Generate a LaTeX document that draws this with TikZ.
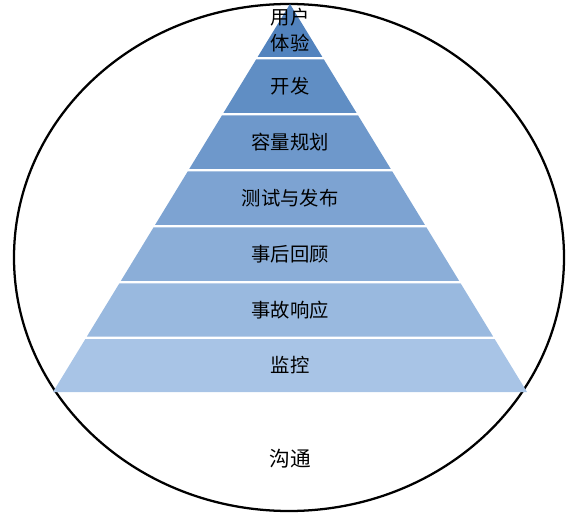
\documentclass[tikz,border=0pt]{standalone}
\usepackage{fontspec}
\newfontfamily\cjk{Noto Sans CJK SC}
\usetikzlibrary{positioning}
\definecolor{pyrtop}{RGB}{82,131,190}
\definecolor{pyrbot}{RGB}{168,196,230}

\begin{document}
\begin{tikzpicture}[x=0.75pt,y=-0.75pt,
 lab/.style={font=\cjk\fontsize{14.5}{19}\selectfont,align=center,inner sep=1pt},
 rim/.style={draw=black,line width=1.7pt}]
\useasboundingbox (0,0) rectangle (574,516);
\draw[rim] (289,257.5) ellipse [x radius=275, y radius=253.5];
% layers, apex at (290,4), base half width 237 at y=392
\foreach \k/\yt/\yb/\txt in {1/4/57/{用户\\体验},2/59.5/113/开发,3/115.5/169/容量规划,
  4/171.5/225/测试与发布,5/227.5/281/事后回顾,6/283.5/336.5/事故响应,7/339/392/监控}{
  \pgfmathsetmacro\wt{(\yt-4)*0.61082}
  \pgfmathsetmacro\wb{(\yb-4)*0.61082}
  \pgfmathtruncatemacro\p{100*(\k-1)/6}
  \colorlet{layc}{pyrbot!\p!pyrtop}
  \fill[layc] (290-\wt,\yt) -- (290+\wt,\yt) -- (290+\wb,\yb) -- (290-\wb,\yb) -- cycle;
  \ifnum\k=1
    \node[lab] (lay\k) at (290,30) {\txt};
  \else
    \node[lab] (lay\k) at (290,{(\yt+\yb)/2}) {\txt};
  \fi
}
\node[lab,font=\cjk\fontsize{15.5}{19}\selectfont] (comm) at (290,459) {沟通};
\end{tikzpicture}
\end{document}
